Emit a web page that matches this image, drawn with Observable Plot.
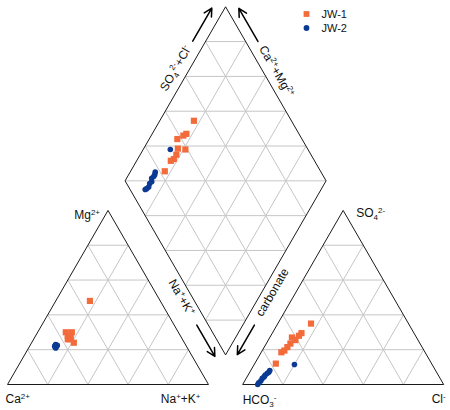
<!DOCTYPE html>
<html>
<head>
<meta charset="utf-8">
<script src="https://cdn.jsdelivr.net/npm/d3@7"></script>
<script src="https://cdn.jsdelivr.net/npm/@observablehq/plot@0.6"></script>
<style>
  html, body { margin: 0; padding: 0; background: #fff; }
  svg { display: block; }
</style>
</head>
<body>
<div id="chart"></div>
<script>
// ---------------- data ----------------
const seriesNames = ["JW-1", "JW-2"];
const seriesColors = ["#f36b3b", "#0b3a93"];
const seriesSymbols = ["square", "circle"];

// JW-1 (meq %)
const ca1   = [35, 53, 56, 56, 56, 55, 55, 56, 56, 57];
const mg1   = [48, 30, 28, 30, 27, 24, 27, 26, 27, 26];
const nak1  = [17, 17, 16, 14, 17, 21, 18, 18, 17, 17];
const hco31 = [48.5, 56, 58, 62, 64.5, 61, 67, 69.5, 71.5, 77.5];
const so41  = [35, 29.5, 28, 27, 23.5, 25.5, 21.5, 19.5, 18.5, 12];
const cl1   = [16.5, 14.5, 14, 11, 12, 13.5, 11.5, 11, 10, 10.5];

// JW-2 (meq %)
const ca2   = [64.5, 65, 65.5, 65, 64.5, 65.5, 65, 64, 65.5, 65.5];
const mg2   = [22, 22.5, 21.5, 22, 23, 21, 22, 22.5, 21.5, 22];
const nak2  = [13.5, 12.5, 13, 13, 12.5, 13.5, 13, 13.5, 13, 12.5];
const hco32 = [68.5, 82.5, 83.5, 84.5, 86, 87, 88.5, 90, 91.5, 92.5];
const so42  = [11.5, 8, 7, 6.5, 5.5, 4.5, 3.5, 2, 1, 0];
const cl2   = [20, 9.5, 9.5, 9, 8.5, 8.5, 8, 8, 7.5, 7.5];

const gridLevels = [20, 40, 60, 80];

// ---------------- geometry ----------------
const K = 2.01;            // px per percent unit
const PX0 = 7, PY0 = 384;  // pixel position of the Ca2+ vertex
const GAP = 17;
const OFF = 100 + GAP;
const H = Math.sqrt(3) / 2;

const catXY = (ca, mg, nak) => [nak + mg / 2, mg * H];
const anXY = (hco3, so4, cl) => [OFF + cl + so4 / 2, so4 * H];
const diaXY = (nak, hco3) => { const t = OFF + 100 - hco3 - nak; return [nak + t / 2, t * H]; };
const pxU = (px, py) => [(px - PX0) / K, (PY0 - py) / K];

const seg = (a, b) => ({x1: a[0], y1: a[1], x2: b[0], y2: b[1]});

const grid = [], outline = [];
for (const i of gridLevels) {
  const j = 100 - i;
  grid.push(seg(catXY(j, i, 0), catXY(0, i, j)));
  grid.push(seg(catXY(j, 0, i), catXY(0, j, i)));
  grid.push(seg(catXY(i, 0, j), catXY(i, j, 0)));
  grid.push(seg(anXY(j, i, 0), anXY(0, i, j)));
  grid.push(seg(anXY(j, 0, i), anXY(0, j, i)));
  grid.push(seg(anXY(i, 0, j), anXY(i, j, 0)));
  grid.push(seg(diaXY(i, 100), diaXY(i, 0)));
  grid.push(seg(diaXY(100, i), diaXY(0, i)));
}
for (let s = 20; s <= 180; s += 20) {
  if (s <= 100) grid.push(seg(diaXY(0, s), diaXY(s, 0)));
  else grid.push(seg(diaXY(s - 100, 100), diaXY(100, s - 100)));
}
const cA = catXY(100, 0, 0), cB = catXY(0, 0, 100), cC = catXY(0, 100, 0);
const aA = anXY(100, 0, 0), aB = anXY(0, 0, 100), aC = anXY(0, 100, 0);
const dB = diaXY(100, 100), dL = diaXY(0, 100), dR = diaXY(100, 0), dT = diaXY(0, 0);
outline.push(seg(cA, cB), seg(cB, cC), seg(cC, cA));
outline.push(seg(aA, aB), seg(aB, aC), seg(aC, aA));
outline.push(seg(dB, dL), seg(dL, dT), seg(dT, dR), seg(dR, dB));

const along = (P, Q, f, n, d) => [P[0] + (Q[0] - P[0]) * f + n[0] * d, P[1] + (Q[1] - P[1]) * f + n[1] * d];
const edges = {
  ul: {P: dL, Q: dT, n: [-H, 0.5]},
  ur: {P: dR, Q: dT, n: [H, 0.5]},
  ll: {P: dL, Q: dB, n: [-H, -0.5]},
  lr: {P: dR, Q: dB, n: [H, -0.5]}
};
const arrowDefs = [
  {e: "ul", f0: 0.77, f1: 0.96, d: 5.6},
  {e: "ur", f0: 0.77, f1: 0.96, d: 5.3},
  {e: "ll", f0: 0.80, f1: 0.98, d: 5.0},
  {e: "lr", f0: 0.80, f1: 0.97, d: 5.0}
];
const arrows = arrowDefs.map(a => {
  const E = edges[a.e];
  return seg(along(E.P, E.Q, a.f0, E.n, a.d), along(E.P, E.Q, a.f1, E.n, a.d));
});
const edgeLabels = [
  {e: "ul", f: 0.61, d: 6.2, text: "SO_{4}^{2-}+Cl^{-}", rotate: -60},
  {e: "ur", f: 0.595, d: 5.8, text: "Ca^{2+}+Mg^{2+}", rotate: 60},
  {e: "ll", f: 0.643, d: 4.7, text: "Na^{+}+K^{+}", rotate: 60},
  {e: "lr", f: 0.614, d: 4.6, text: "carbonate", rotate: -60}
].map(l => { const E = edges[l.e]; const p = along(E.P, E.Q, l.f, E.n, l.d); return {...l, x: p[0], y: p[1]}; });

const cornerLabels = [
  {p: cC, text: "Mg^{2+}", anchor: "end", dx: -8, dy: 5},
  {p: cA, text: "Ca^{2+}", anchor: "start", dx: -2, dy: 15},
  {p: cB, text: "Na^{+}+K^{+}", anchor: "end", dx: -8, dy: 15},
  {p: aC, text: "SO_{4}^{2-}", anchor: "start", dx: 13, dy: 3},
  {p: aA, text: "HCO_{3}^{-}", anchor: "start", dx: 0, dy: 16},
  {p: aB, text: "Cl^{-}", anchor: "end", dx: 2, dy: 15}
];

function samples(ca, mg, nak, hco3, so4, cl, s) {
  return ca.map((_, i) => {
    const c = catXY(ca[i], mg[i], nak[i]);
    const a = anXY(hco3[i], so4[i], cl[i]);
    const d = diaXY(nak[i], hco3[i]);
    return {series: s, cx: c[0], cy: c[1], ax: a[0], ay: a[1], dx: d[0], dy: d[1]};
  });
}
const groups = [
  samples(ca1, mg1, nak1, hco31, so41, cl1, seriesNames[0]),
  samples(ca2, mg2, nak2, hco32, so42, cl2, seriesNames[1])
];

const legend = seriesNames.map((name, i) => {
  const p = pxU(306, 13.5 + i * 14);
  const t = pxU(321, 13.5 + i * 14);
  return {name, x: p[0], y: p[1], tx: t[0], ty: t[1], color: seriesColors[i], symbol: seriesSymbols[i]};
});

const font = "Liberation Sans, Arial, Helvetica, sans-serif";
const pointMarks = [];
groups.forEach((g, i) => {
  const r = seriesSymbols[i] === "square" ? 3.5 : 2.8;
  const opts = {fill: seriesColors[i], symbol: seriesSymbols[i], r, stroke: "none"};
  pointMarks.push(Plot.dot(g, {x: "cx", y: "cy", ...opts}));
  pointMarks.push(Plot.dot(g, {x: "ax", y: "ay", ...opts}));
  pointMarks.push(Plot.dot(g, {x: "dx", y: "dy", ...opts}));
});

const cornerMarks = cornerLabels.map(c => Plot.text([c], {
  x: d => d.p[0], y: d => d.p[1], text: "text",
  textAnchor: c.anchor, dx: c.dx, dy: c.dy, fontSize: 12, fill: "#111"
}));

const chart = Plot.plot({
  width: 450,
  height: 410,
  marginTop: 0, marginRight: 0, marginBottom: 0, marginLeft: 0,
  style: {fontFamily: font, background: "#fff"},
  x: {domain: [-PX0 / K, (450 - PX0) / K], axis: null},
  y: {domain: [(PY0 - 410) / K, PY0 / K], axis: null},
  marks: [
    Plot.link(grid, {x1: "x1", y1: "y1", x2: "x2", y2: "y2", stroke: "#c6c6c6", strokeWidth: 1}),
    Plot.link(outline, {x1: "x1", y1: "y1", x2: "x2", y2: "y2", stroke: "#1a1a1a", strokeWidth: 1}),
    Plot.arrow(arrows, {x1: "x1", y1: "y1", x2: "x2", y2: "y2", stroke: "#000", strokeWidth: 1.5, headLength: 9, headAngle: 55}),
    ...pointMarks,
    Plot.text(edgeLabels, {x: "x", y: "y", text: "text", rotate: "rotate", fontSize: 12, fill: "#111", textAnchor: "middle", lineAnchor: "middle"}),
    ...cornerMarks,
    Plot.dot(legend, {x: "x", y: "y", fill: "color", symbol: "symbol", r: d => d.symbol === "square" ? 3.3 : 2.6}),
    Plot.text(legend, {x: "tx", y: "ty", text: "name", textAnchor: "start", fontSize: 11, fill: "#111"})
  ]
});

// rich text: sub/superscripts as tspans
d3.select(chart).selectAll("text").each(function() {
  const s = this.textContent;
  if (!/[\^_]\{/.test(s)) return;
  while (this.firstChild) this.removeChild(this.firstChild);
  const re = /([\^_])\{([^}]*)\}/g;
  let last = 0, m, shift = 0;
  const add = (txt, kind) => {
    const t = document.createElementNS("http://www.w3.org/2000/svg", "tspan");
    t.textContent = txt;
    const target = kind === "^" ? -4.5 : kind === "_" ? 3 : 0;
    const dy = target - shift;
    if (dy) t.setAttribute("dy", dy);
    shift = target;
    if (kind) t.setAttribute("font-size", "8");
    this.appendChild(t);
  };
  while ((m = re.exec(s))) {
    if (m.index > last) add(s.slice(last, m.index), null);
    add(m[2], m[1]);
    last = re.lastIndex;
  }
  if (last < s.length) add(s.slice(last), null);
});

document.getElementById("chart").appendChild(chart);
</script>
</body>
</html>
